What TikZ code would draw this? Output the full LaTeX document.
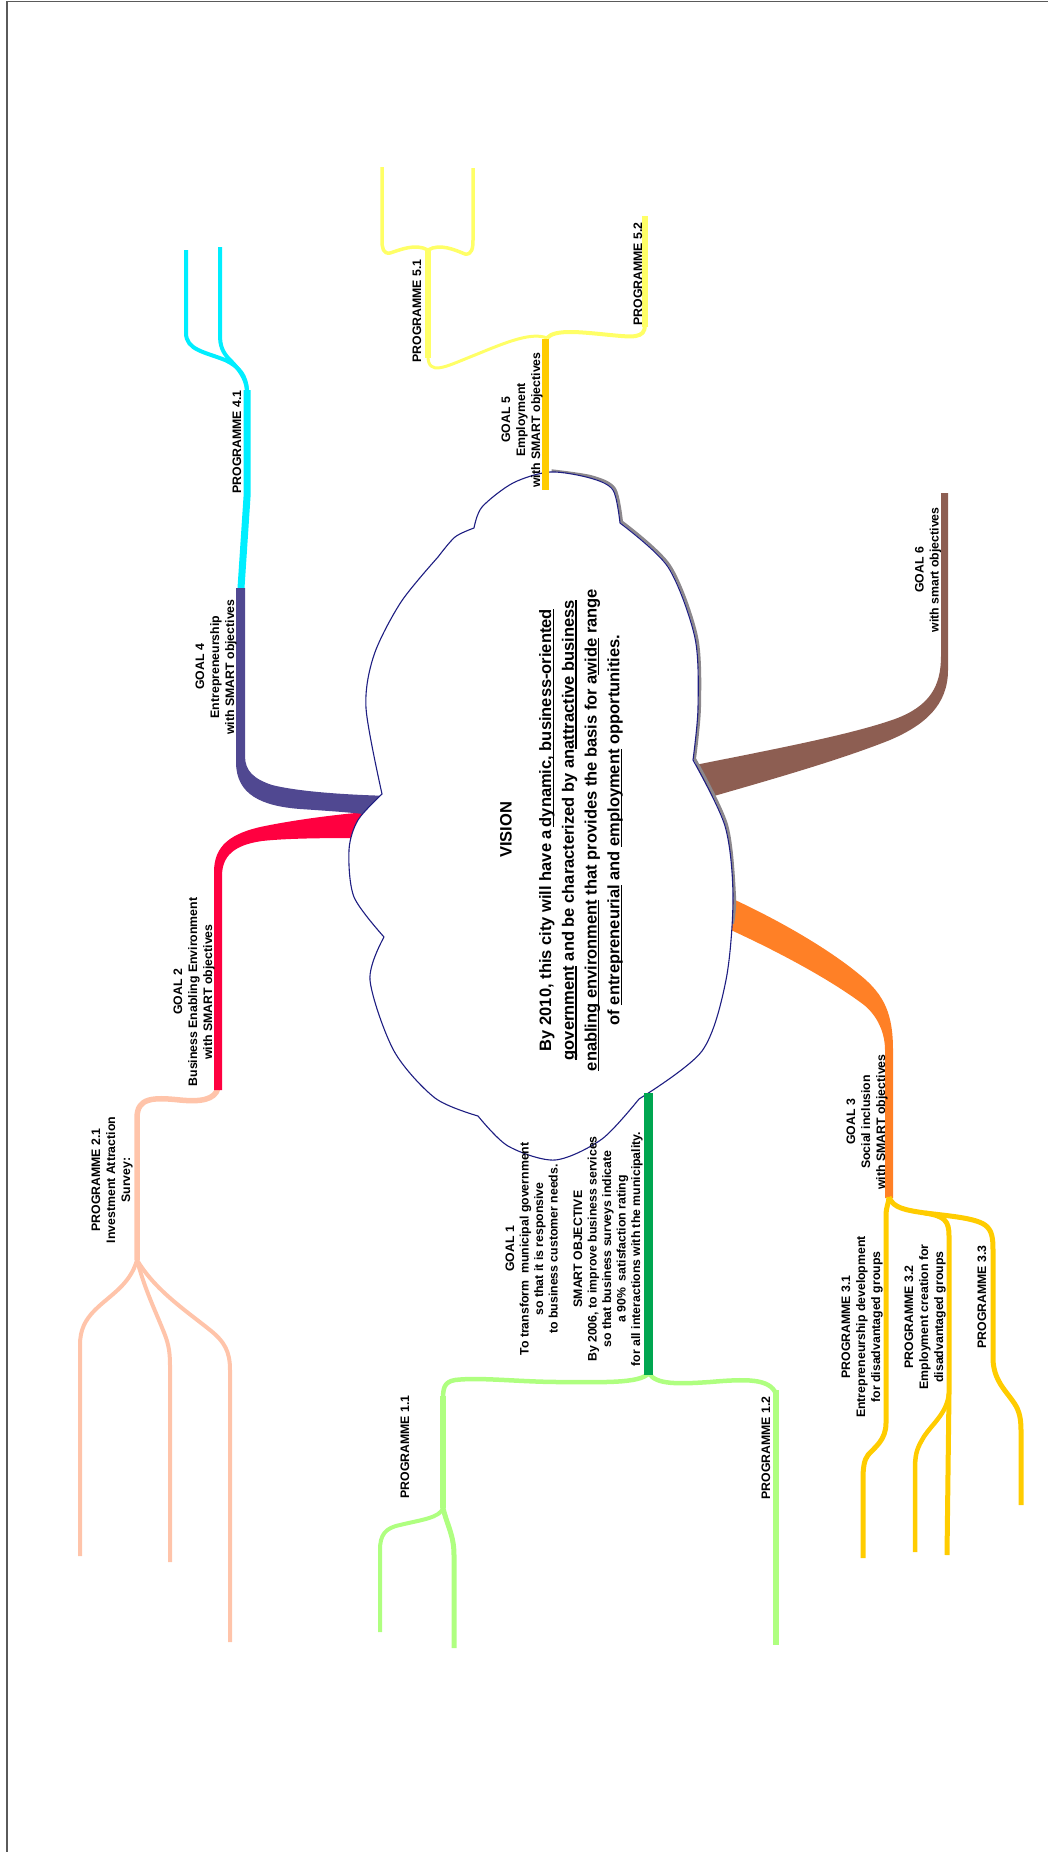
\documentclass[tikz,border=0pt]{standalone}
\usepackage{fontspec}
\setmainfont{Liberation Sans}
\definecolor{peach}{RGB}{255,196,170}
\definecolor{goaltwo}{RGB}{255,0,64}
\definecolor{goalfour}{RGB}{80,72,145}
\definecolor{progfour}{RGB}{0,238,255}
\definecolor{goalfive}{RGB}{255,204,0}
\definecolor{progfive}{RGB}{255,255,102}
\definecolor{goalsix}{RGB}{141,94,82}
\definecolor{goalthree}{RGB}{255,128,38}
\definecolor{progthree}{RGB}{255,204,0}
\definecolor{goalone}{RGB}{0,166,80}
\definecolor{progone}{RGB}{175,255,128}
\definecolor{cloudnavy}{RGB}{30,30,130}
\definecolor{shadowgray}{RGB}{140,136,140}
\definecolor{framegray}{RGB}{90,90,90}
\newcommand{\lblfont}{\fontsize{12.3}{15}\selectfont\bfseries}
\newcommand{\gonefont}{\fontsize{12.3}{14.5}\selectfont\bfseries}
\newcommand{\visfont}{\fontsize{16.5}{22.7}\selectfont\bfseries}
\newsavebox{\vulbox}
\newcommand{\vul}[1]{\sbox{\vulbox}{#1}\rlap{\rule[-2.8pt]{\wd\vulbox}{1.3pt}}\usebox{\vulbox}}
\tikzset{
  lbl/.style={rotate=90, align=center, inner sep=0pt, font=\lblfont},
  vistitle/.style={rotate=90, inner sep=0pt, font=\visfont},
  visbody/.style={rotate=90, align=center, inner sep=0pt, font=\visfont},
  cloudline/.style={draw=cloudnavy, line width=1.1pt, fill=white, line join=round},
  cloudshadow/.style={draw=shadowgray, line width=2.8pt},
  pone/.style={draw=progone, line join=round},
  ptwo/.style={draw=peach, line join=round},
  pthree/.style={draw=progthree, line join=round},
  pfour/.style={draw=progfour, line join=round},
  pfive/.style={draw=progfive, line join=round},
  frameline/.style={draw=framegray, line width=1.2pt}
}
\begin{document}
\begin{tikzpicture}[x=1pt,y=-1pt]
\useasboundingbox (0,0) rectangle (1048,1852);
\draw[frameline] (7,1852) -- (7,1.5) -- (1048,1.5);

% named junctions
\coordinate (g2end) at (218,1088);
\coordinate (p2split) at (137,1260);
\coordinate (g4end) at (241,588);
\coordinate (p4split) at (247,390);
\coordinate (g5end) at (547,338);
\coordinate (p5split) at (428,250);
\coordinate (g1end) at (649,1373);
\coordinate (p1split) at (443,1508);
\coordinate (g3end) at (889,1197);
\coordinate (p3mid) at (925,1213);
\coordinate (p32split) at (949,1393);

% ---------- Programme 2.1 (peach)
\draw[ptwo, line width=5.5] (g2end) .. controls (215,1100) and (200,1102) .. (180,1100)
   .. controls (152,1097) and (137,1098) .. (137,1118) -- (p2split);
\draw[ptwo, line width=4] (p2split) .. controls (130,1285) and (110,1295) .. (95,1310)
   .. controls (85,1320) and (80,1330) .. (80,1345) -- (80,1556);
\draw[ptwo, line width=4] (p2split) .. controls (145,1290) and (155,1310) .. (163,1330)
   .. controls (168,1342) and (170,1350) .. (170,1365) -- (170,1562);
\draw[ptwo, line width=4] (p2split) .. controls (155,1290) and (185,1310) .. (210,1330)
   .. controls (225,1342) and (230,1352) .. (230,1370) -- (230,1642);

% ---------- Goal 2 band (red)
\fill[goaltwo] (214,1090) -- (214,872) .. controls (214,846) and (230,833) .. (265,826)
   .. controls (300,819) and (340,814) .. (378,811) -- (372,838)
   .. controls (330,838) and (290,838) .. (262,841) .. controls (234,845) and (222,856) .. (222,876)
   -- (222,1090) -- cycle;

% ---------- Goal 4 band (purple) and Programme 4.1 (cyan)
\draw[pfour, line width=7] (g4end) -- (247,497) -- (p4split);
\fill[goalfour] (236,588) -- (236,762) .. controls (236,795) and (262,806) .. (300,809)
   .. controls (330,811) and (360,813) .. (378,816) -- (392,796)
   .. controls (350,795) and (300,792) .. (272,785) .. controls (254,779) and (245,771) .. (245,756)
   -- (245,588) -- cycle;
\draw[pfour, line width=4] (p4split) .. controls (246,376) and (240,367) .. (225,360)
   .. controls (205,352) and (186,350) .. (186,333) -- (186,250);
\draw[pfour, line width=4] (p4split) .. controls (246,378) and (238,368) .. (230,360)
   .. controls (222,352) and (220,345) .. (220,335) -- (220,247);

% ---------- Programme 5 (light yellow)
\draw[pfive, line width=3] (g5end) .. controls (530,331) and (500,345) .. (470,357)
   .. controls (445,367) and (428,376) .. (428,356);
\draw[pfive, line width=6] (428,358) -- (p5split);
\draw[pfive, line width=3.5] (p5split) .. controls (415,243) and (400,250) .. (390,253)
   .. controls (383,254) and (382,248) .. (382,240) -- (382,167);
\draw[pfive, line width=3.5] (p5split) .. controls (440,243) and (455,250) .. (465,254)
   .. controls (472,255) and (473,248) .. (473,240) -- (473,168);
\draw[pfive, line width=4] (g5end) .. controls (555,329) and (580,332) .. (610,335)
   .. controls (632,337) and (645,339) .. (645,325);
\draw[pfive, line width=5.5] (645,327) -- (645,216);

% ---------- Goal 6 band (brown)
\fill[goalsix] (941,493) -- (948,493) -- (948,670) .. controls (948,705) and (925,725) .. (890,740)
   .. controls (840,760) and (770,780) .. (700,800) -- (690,766)
   .. controls (770,750) and (850,735) .. (895,719) .. controls (930,706) and (941,686) .. (941,656)
   -- cycle;

% ---------- Goal 3 band (orange) and Programme 3 (gold)
\fill[goalthree] (722,894) .. controls (780,920) and (830,950) .. (860,975)
   .. controls (885,995) and (893,1015) .. (893,1050) -- (893,1198) -- (885,1198) -- (885,1050)
   .. controls (885,1030) and (875,1012) .. (860,1002) .. controls (830,980) and (780,952) .. (722,926)
   -- cycle;
\draw[pthree, line width=5] (g3end) .. controls (889,1203) and (886,1206) .. (886,1216) -- (886,1423)
   .. controls (886,1440) and (875,1447) .. (868,1455) .. controls (864,1460) and (863,1468) .. (863,1480)
   -- (863,1558);
\draw[pthree, line width=5] (g3end) .. controls (893,1208) and (905,1210) .. (p3mid)
   .. controls (945,1216) and (949,1221) .. (949,1236) -- (p32split) -- (947,1555);
\draw[pthree, line width=4.5] (p32split) .. controls (947,1415) and (930,1425) .. (922,1440)
   .. controls (916,1450) and (915,1457) .. (915,1470) -- (915,1552);
\draw[pthree, line width=5] (p3mid) .. controls (950,1216) and (975,1218) .. (985,1225)
   .. controls (992,1230) and (993,1238) .. (993,1250) -- (993,1360)
   .. controls (994,1380) and (1005,1390) .. (1012,1400) .. controls (1018,1408) and (1021,1415) .. (1021,1430)
   -- (1021,1505);

% ---------- Programme 1 (light green)
\draw[pone, line width=4.5] (g1end) .. controls (640,1384) and (600,1382) .. (560,1382)
   .. controls (520,1382) and (480,1377) .. (455,1380) .. controls (444,1382) and (443,1388) .. (443,1400);
\draw[pone, line width=6] (443,1396) -- (p1split);
\draw[pone, line width=4] (p1split) .. controls (440,1518) and (420,1520) .. (400,1525)
   .. controls (385,1528) and (380,1535) .. (380,1550) -- (380,1632);
\draw[pone, line width=5] (p1split) .. controls (447,1525) and (454,1535) .. (454,1555) -- (454,1648);
\draw[pone, line width=4.5] (g1end) .. controls (655,1385) and (680,1384) .. (710,1382)
   .. controls (745,1379) and (770,1378) .. (776,1394);
\draw[pone, line width=6] (776,1390) -- (776,1645);

% ---------- Cloud
\draw[cloudshadow, shift={(1.6,-1.3)}]
   plot[smooth] coordinates {(550,472) (590,478) (613,490) (620,523)}
   -- plot[smooth] coordinates {(620,523) (668,567) (695,638) (698,708) (693,760)}
   -- plot[smooth] coordinates {(693,760) (725,826) (733,897) (731,925)};
\path[cloudline]
   plot[smooth] coordinates {(474,528) (482,507) (513,483) (550,472) (590,478) (613,490) (620,523)}
   -- plot[smooth] coordinates {(620,523) (668,567) (695,638) (698,708) (693,760)}
   -- plot[smooth] coordinates {(693,760) (725,826) (733,897) (726,980) (702,1051) (639,1099)}
   -- plot[smooth] coordinates {(639,1099) (602,1139) (555,1160) (508,1146) (478,1116)}
   -- plot[smooth] coordinates {(478,1116) (435,1098) (394,1051) (370,980) (384,937)}
   -- plot[smooth] coordinates {(384,937) (354,897) (349,850) (358,820) (382,794)}
   -- plot[smooth] coordinates {(382,794) (366,708) (374,655) (401,602) (438,557)}
   -- plot[smooth] coordinates {(438,557) (455,537) (474,528)}
   -- cycle;

% ---------- Goal bars on top of the cloud
\fill[goalone] (644,1093) rectangle (653,1375);
\fill[goalfive] (542,339) rectangle (549,490);

% ---------- Vision text
\node[vistitle] (vis) at (506,830) {VISION};
\node[visbody] (visb) at (581,830) {By 2010, this city will have a\,\vul{dynamic, business-oriented}\\
\vul{government} and be characterized by an\vul{attractive business}\\
\vul{enabling environment} that provides the basis for a\vul{wide} range\\
of \vul{entrepreneurial} and \vul{employment} opportunities.};

% ---------- Labels
\node[lbl, font=\gonefont] (g1) at (574,1249) {GOAL 1\\To transform\ \ municipal government\\so that it is responsive\\to business customer needs.\\[10pt]SMART OBJECTIVE\\By 2006, to improve business services\\so that business surveys indicate\\a 90\%\ \ satisfaction rating\\for all interactions with the municipality.};
\node[lbl] (g2) at (194,992) {GOAL 2\\Business Enabling Environment\\with SMART objectives};
\node[lbl] (g3) at (867,1122) {GOAL 3\\Social inclusion\\with SMART objectives};
\node[lbl] (g4) at (216,667) {GOAL 4\\Entrepreneurship\\with SMART objectives};
\node[lbl] (g5) at (522,420) {GOAL 5\\Employment\\with SMART objectives};
\node[lbl] (g6) at (928,570) {GOAL 6\\with smart objectives};
\node[lbl] (p11) at (405,1447) {PROGRAMME 1.1};
\node[lbl] (p12) at (766,1448) {PROGRAMME 1.2};
\node[lbl] (p21) at (112,1180) {PROGRAMME 2.1\\Investment Attraction\\Survey:};
\node[lbl] (p31) at (862,1327) {PROGRAMME 3.1\\Entrepreneurship development\\for disadvantaged groups};
\node[lbl] (p32) at (925,1317) {PROGRAMME 3.2\\Employment creation for\\disadvantaged groups};
\node[lbl] (p33) at (982,1297) {PROGRAMME 3.3};
\node[lbl] (p41) at (237,442) {PROGRAMME 4.1};
\node[lbl] (p51) at (417,311) {PROGRAMME 5.1};
\node[lbl] (p52) at (638,274) {PROGRAMME 5.2};
\end{tikzpicture}
\end{document}
